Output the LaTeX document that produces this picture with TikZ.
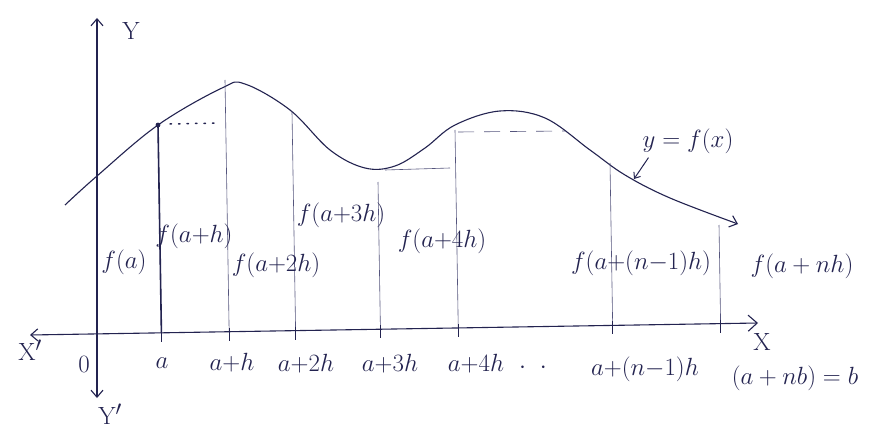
\documentclass[tikz,border=0pt]{standalone}
\usetikzlibrary{arrows.meta,calc}
\definecolor{pen}{RGB}{35,35,80}
\definecolor{thinpen}{RGB}{85,85,125}
\begin{document}
\begin{tikzpicture}[x=1pt,y=-1pt,
  axisline/.style={draw=pen, line width=1.1pt},
  vline/.style={draw=thinpen, line width=0.6pt},
  tickmark/.style={draw=pen, line width=1pt},
  lbl/.style={text=pen, inner sep=0pt, font=\fontsize{24.88}{28}\selectfont},
  barb/.style={-{Straight Barb[length=7pt,width=12pt]}}]
\fill[white] (0,0) rectangle (875,433);
\useasboundingbox (0,0) rectangle (875,433);
% axes
\coordinate (ytop) at (97,18);
\coordinate (ybot) at (97,398);
\coordinate (xl) at (30,335);
\coordinate (xr) at (758,323);
\draw[axisline, {Straight Barb[length=7pt,width=12pt]}-{Straight Barb[length=7pt,width=12pt]}] (ybot) -- (ytop);
\draw[axisline, {Straight Barb[length=7pt,width=12pt]}-{Straight Barb[length=9pt,width=16pt]}] (xl) -- (xr);
% curve
\draw[pen, line width=1.1pt, barb] plot[smooth, tension=0.6] coordinates {
 (65,205) (97,176) (158,125) (222,88) (245,84) (290,110) (330,150) (365,168)
 (395,166) (425,148) (455,125) (500,111) (545,118) (590,150) (625,175) (670,198) (738,224)};
% ordinate tops
\coordinate (t1) at (158,125);
\coordinate (t2) at (225,80);
\coordinate (t3) at (292,112);
\coordinate (t4) at (378,182);
\coordinate (t5) at (455,130);
\coordinate (t6) at (610,163);
\coordinate (t7) at (719,225);
\foreach \i in {1,...,7} {
  \coordinate (f\i) at ($(xl)!(t\i)!(xr)$);
  \draw[vline] (t\i) -- (f\i);
  \draw[tickmark] ($(f\i)+(0,-4)$) -- ($(f\i)+(0,9)$);
}
\draw[pen, line width=1.6pt] (t1) -- (f1);
\fill[pen] (t1) circle (2.4pt);
\coordinate (d1) at (170,124);
\coordinate (d2) at (220,123);
\draw[pen, line width=1.5pt, dash pattern=on 1.5pt off 7pt, line cap=round] (d1) -- (d2);
\coordinate (h1) at (385,170);
\coordinate (h2) at (450,168);
\draw[vline] (h1) -- (h2);
\coordinate (g1) at (458,132);
\coordinate (g2) at (565,131);
\draw[vline, dash pattern=on 16pt off 10pt] (g1) -- (g2);
% axis labels
\node[lbl] (Y) at (131,31) {Y};
\node[lbl] (Yp) at (110,414) {Y$'$};
\node[lbl] (Xp) at (30,350) {X$'$};
\node[lbl] (X) at (762,342) {X};
\node[lbl] (O) at (84,364) {0};
% x labels
\node[lbl] (la) at (162,363) {$a$};
\node[lbl] (lah) at (232,363) {$a{+}h$};
\node[lbl] (la2h) at (306,364) {$a{+}2h$};
\node[lbl] (la3h) at (390,364) {$a{+}3h$};
\node[lbl] (la4h) at (476,364) {$a{+}4h$};
\node[lbl] (dots) at (533,368) {$\cdot\;\;\cdot$};
\node[lbl] (lan1) at (645,369) {$a{+}(n{-}1)h$};
\node[lbl] (lanb) at (795,378) {$(a+nb)=b$};
% ordinate labels
\node[lbl] (fa) at (124,262) {$f(a)$};
\node[lbl] (fah) at (194,236) {$f(a{+}h)$};
\node[lbl] (fa2h) at (276,265) {$f(a{+}2h)$};
\node[lbl] (fa3h) at (341,215) {$f(a{+}3h)$};
\node[lbl] (fa4h) at (442,241) {$f(a{+}4h)$};
\node[lbl] (fan1) at (641,263) {$f(a{+}(n{-}1)h)$};
\node[lbl] (fanh) at (802,266) {$f(a+nh)$};
% curve label
\node[lbl] (yfx) at (688,141) {$y = f(x)$};
\coordinate (cpt) at (634,179);
\draw[pen, line width=1pt, -{Straight Barb[length=5pt,width=8pt]}] (yfx.south west) ++(6,4) -- (cpt);
\end{tikzpicture}
\end{document}
